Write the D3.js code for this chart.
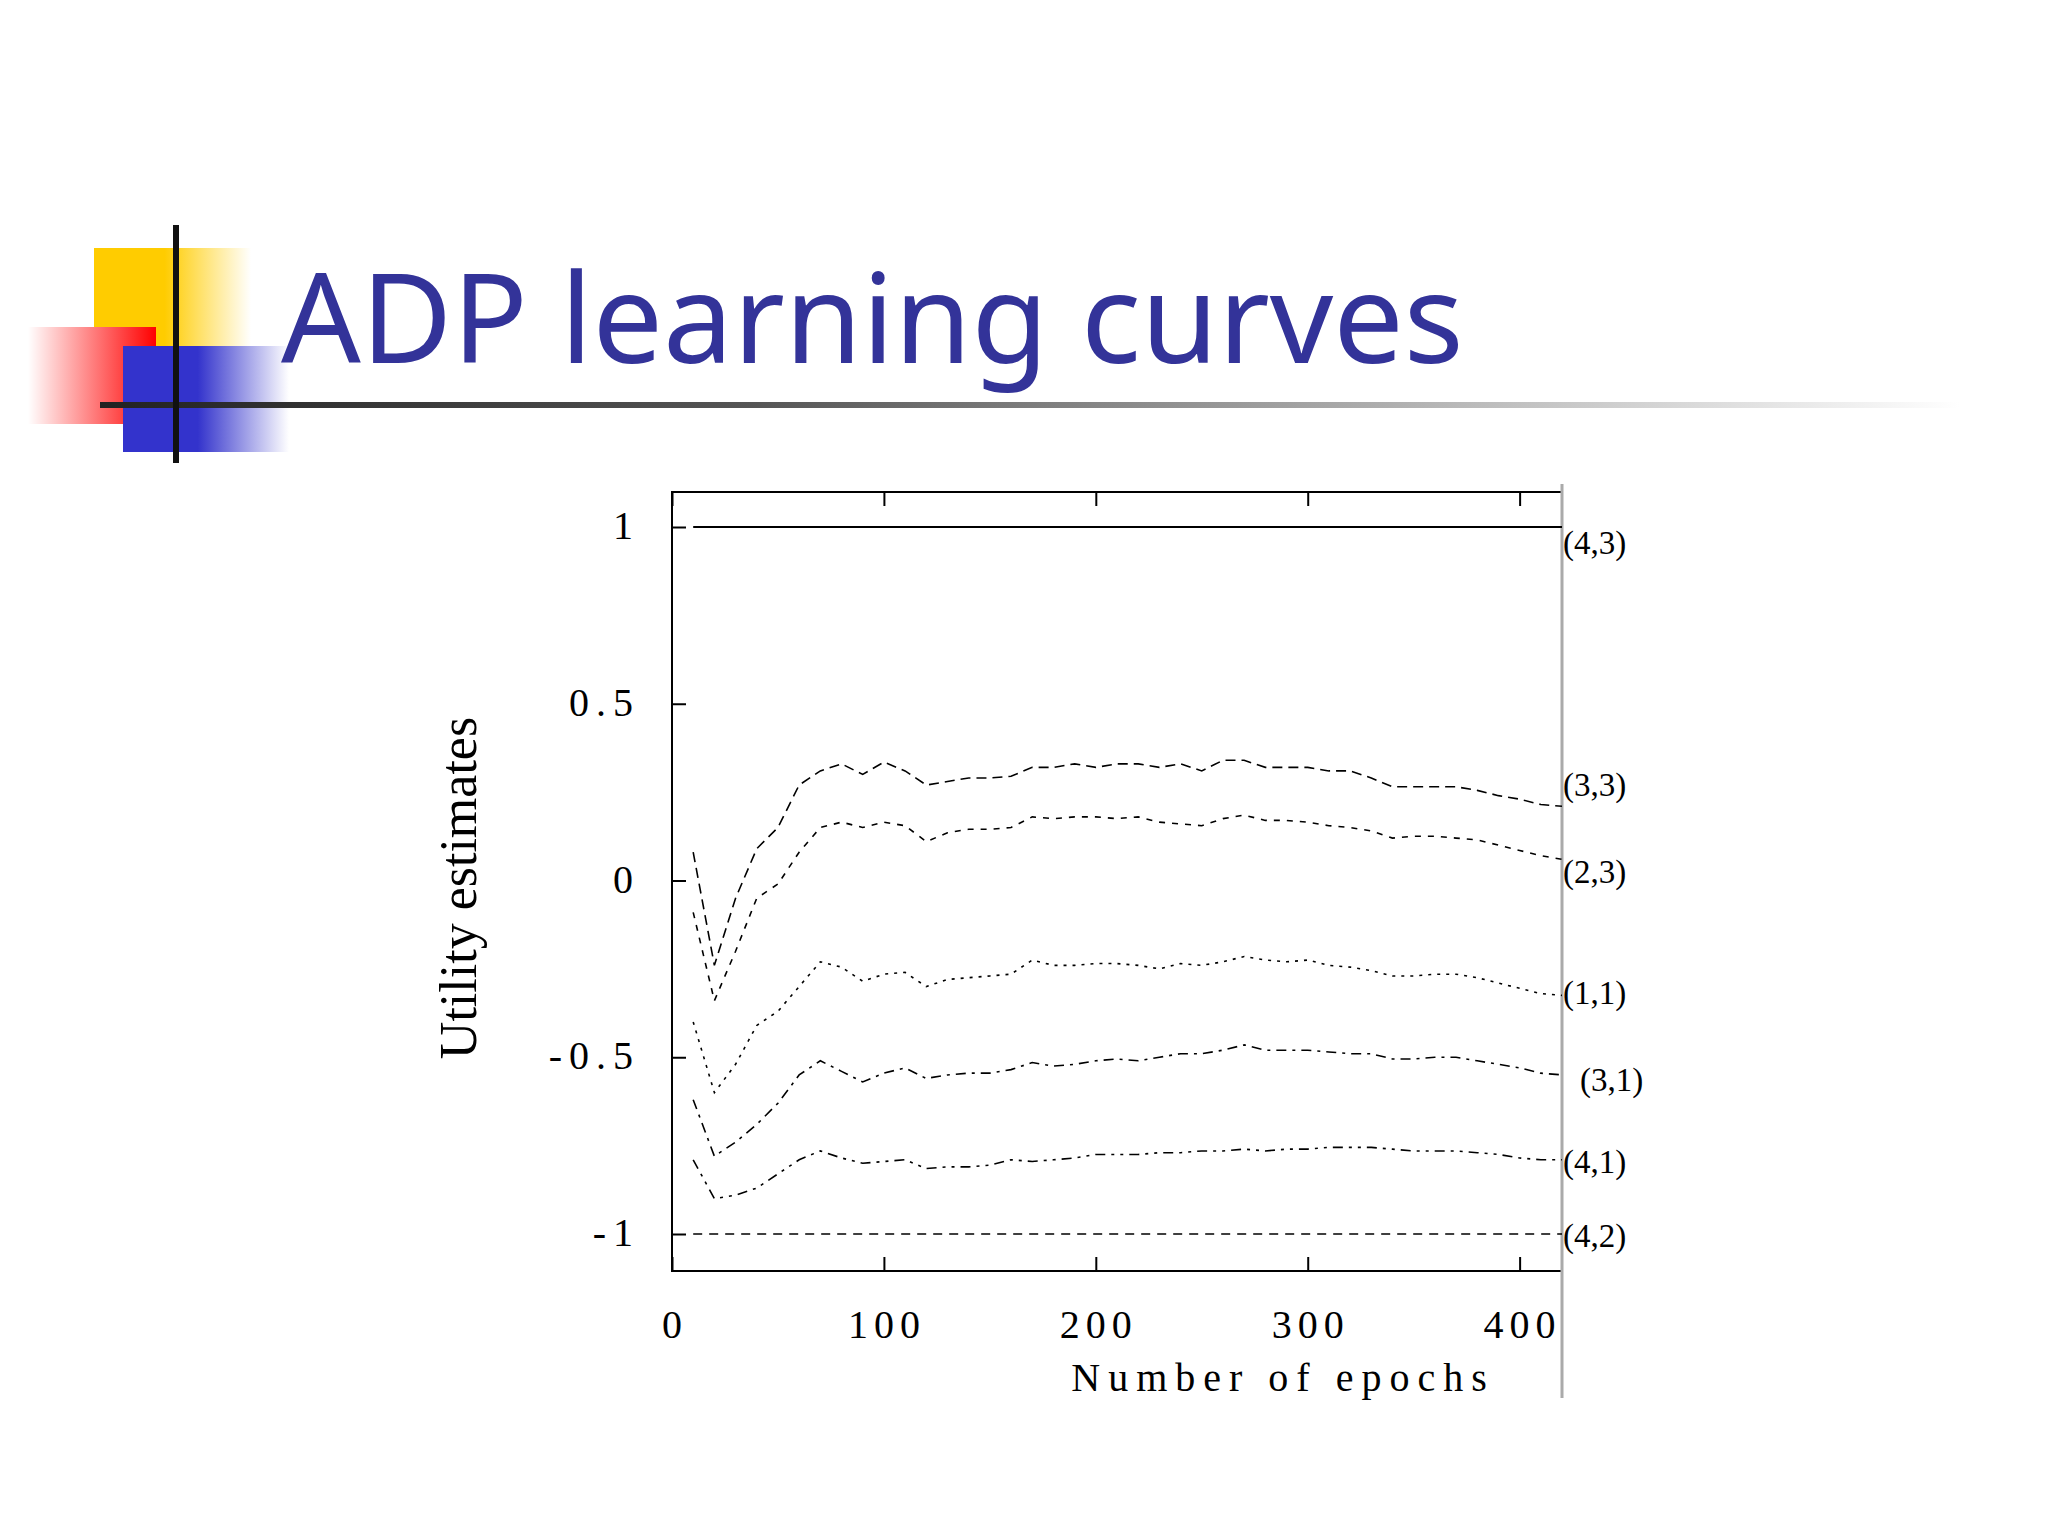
<!DOCTYPE html>
<html><head><meta charset="utf-8">
<script src="https://cdn.jsdelivr.net/npm/d3@7"></script>
<style>body{margin:0;background:#fff}</style></head>
<body><svg id="c" width="2048" height="1536"></svg>
<script>
const epochs = [10,20,30,40,50,60,70,80,90,100,110,120,130,140,150,160,170,180,190,200,210,220,230,240,250,260,270,280,290,300,310,320,330,340,350,360,370,380,390,400,410,420];
const s33 = [0.08,-0.24,-0.05,0.09,0.15,0.27,0.31,0.33,0.30,0.335,0.31,0.27,0.28,0.29,0.29,0.295,0.32,0.32,0.33,0.32,0.33,0.33,0.32,0.33,0.31,0.34,0.34,0.32,0.32,0.32,0.31,0.31,0.29,0.265,0.265,0.265,0.265,0.255,0.24,0.23,0.215,0.21];
const s23 = [-0.09,-0.34,-0.2,-0.05,-0.01,0.08,0.15,0.165,0.15,0.165,0.155,0.11,0.135,0.145,0.145,0.15,0.18,0.175,0.18,0.18,0.175,0.18,0.165,0.16,0.155,0.175,0.185,0.17,0.17,0.165,0.155,0.15,0.14,0.12,0.125,0.125,0.12,0.115,0.1,0.085,0.07,0.06];
const s11 = [-0.4,-0.6,-0.52,-0.41,-0.37,-0.3,-0.23,-0.245,-0.285,-0.265,-0.26,-0.3,-0.28,-0.275,-0.27,-0.265,-0.225,-0.24,-0.24,-0.235,-0.235,-0.24,-0.25,-0.235,-0.24,-0.23,-0.215,-0.225,-0.23,-0.225,-0.24,-0.245,-0.255,-0.27,-0.27,-0.265,-0.265,-0.275,-0.29,-0.305,-0.32,-0.325];
const s31 = [-0.62,-0.78,-0.74,-0.69,-0.63,-0.55,-0.51,-0.54,-0.57,-0.545,-0.53,-0.56,-0.55,-0.545,-0.545,-0.535,-0.515,-0.525,-0.52,-0.51,-0.505,-0.51,-0.5,-0.49,-0.49,-0.48,-0.465,-0.48,-0.48,-0.48,-0.485,-0.49,-0.49,-0.505,-0.505,-0.5,-0.5,-0.51,-0.52,-0.53,-0.545,-0.55];
const s41 = [-0.79,-0.9,-0.89,-0.87,-0.83,-0.79,-0.765,-0.785,-0.8,-0.795,-0.79,-0.815,-0.81,-0.81,-0.805,-0.79,-0.795,-0.79,-0.785,-0.775,-0.775,-0.775,-0.77,-0.77,-0.765,-0.765,-0.76,-0.765,-0.76,-0.76,-0.755,-0.755,-0.755,-0.76,-0.765,-0.765,-0.765,-0.77,-0.775,-0.785,-0.79,-0.79];
const s43 = epochs.map(()=>1);
const s42 = epochs.map(()=>-1);
const seriesNames = ["(4,3)","(3,3)","(2,3)","(1,1)","(3,1)","(4,1)","(4,2)"];
const xTicks = [0,100,200,300,400];
const yTicks = [1,0.5,0,-0.5,-1];
const title = "ADP learning curves";

const svg = d3.select("#c");
const defs = svg.append("defs");
function grad(id,c){const g=defs.append("linearGradient").attr("id",id);g.append("stop").attr("offset","0").attr("stop-color",c);g.append("stop").attr("offset","0.45").attr("stop-color",c);g.append("stop").attr("offset","1").attr("stop-color","#fff");}
grad("gy","#ffcc00");grad("gb","#3333cc");
const gl=defs.append("linearGradient").attr("id","gl");
gl.append("stop").attr("offset","0").attr("stop-color","#222");gl.append("stop").attr("offset","0.35").attr("stop-color","#555");gl.append("stop").attr("offset","1").attr("stop-color","#fff");
const gr2=defs.append("linearGradient").attr("id","gr2");
gr2.append("stop").attr("offset","0").attr("stop-color","#fff");gr2.append("stop").attr("offset","1").attr("stop-color","#ff0000");
svg.append("rect").attr("x",94).attr("y",248).attr("width",157).attr("height",148).attr("fill","url(#gy)");
svg.append("rect").attr("x",28).attr("y",327).attr("width",128).attr("height",97).attr("fill","url(#gr2)");
svg.append("rect").attr("x",123).attr("y",346).attr("width",166).attr("height",106).attr("fill","url(#gb)");
svg.append("rect").attr("x",100).attr("y",402).attr("width",1860).attr("height",6).attr("fill","url(#gl)");
svg.append("rect").attr("x",173).attr("y",225).attr("width",6).attr("height",238).attr("fill","#111");
svg.append("text").attr("x",281).attr("y",363).attr("font-family","'Noto Sans', sans-serif").attr("font-size",125).attr("fill","#333399").text(title);

const L=672,R=1562,T=492,B=1271;
const x=d3.scaleLinear().domain([0,420]).range([L,R]);
const y=d3.scaleLinear().domain([-1,1]).range([1234,527]);
const g=svg.append("g");
g.append("path").attr("d",`M${R},${T}H${L}V${B}H${R}`).attr("fill","none").attr("stroke","#000").attr("stroke-width",2);
g.append("line").attr("x1",R).attr("x2",R).attr("y1",484).attr("y2",1398).attr("stroke","#aaa").attr("stroke-width",3);
const font="'Liberation Serif','Times New Roman',serif";
g.append("g").attr("transform",`translate(0,${B})`).call(d3.axisTop(x).tickValues(xTicks).tickSize(14).tickFormat(""))
 .call(a=>a.select(".domain").remove());
g.append("g").attr("transform",`translate(0,${T})`).call(d3.axisBottom(x).tickValues(xTicks).tickSize(14).tickFormat(""))
 .call(a=>a.select(".domain").remove());
g.append("g").attr("transform",`translate(${L},0)`).call(d3.axisRight(y).tickValues(yTicks).tickSize(14).tickFormat(""))
 .call(a=>a.select(".domain").remove());
g.selectAll(".tick line").attr("stroke-width",2);
g.selectAll(".xl").data(xTicks).join("text").attr("x",d=>x(d)+3).attr("y",1338).attr("text-anchor","middle")
 .attr("font-family",font).attr("font-size",40).attr("letter-spacing",6).text(d=>d);
g.selectAll(".yl").data(yTicks).join("text").attr("x",640).attr("y",d=>y(d)+12).attr("text-anchor","end")
 .attr("font-family",font).attr("font-size",40).attr("letter-spacing",7).text(d=>d);
g.append("text").attr("x",1283).attr("y",1391).attr("text-anchor","middle").attr("font-family",font).attr("font-size",40).attr("letter-spacing",8).text("Number of epochs");
g.append("text").attr("transform","translate(476,888) rotate(-90)").attr("text-anchor","middle").attr("font-family",font).attr("font-size",52).text("Utility estimates");

const all=[s43,s33,s23,s11,s31,s41,s42];
const dashes=["none","10,6","6,7","3,6","10,6,3,6","10,6,3,6,3,6","9,7"];
const line=d3.line().x((d,i)=>x(epochs[i])).y(d=>y(d));
all.forEach((s,k)=>g.append("path").attr("d",line(s)).attr("fill","none").attr("stroke","#000").attr("stroke-width",k==0?2:1.6).attr("stroke-dasharray",dashes[k]));
const labY=[544,786,873,994,1081,1163,1237];
const labOff=[1,1,1,1,18,1,1];
seriesNames.forEach((n,k)=>g.append("text").attr("x",R+labOff[k]).attr("y",labY[k]+10).attr("font-family",font).attr("font-size",33).text(n));
</script></body></html>
